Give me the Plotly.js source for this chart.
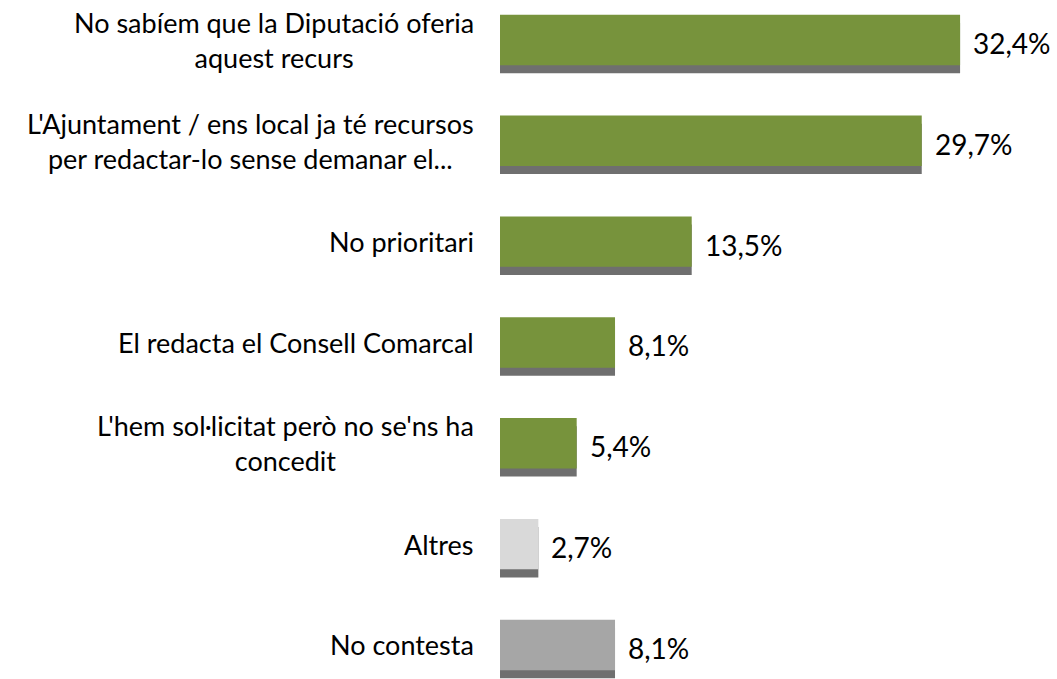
<!DOCTYPE html>
<html><head><meta charset="utf-8">
<script src="https://cdn.plot.ly/plotly-3.0.1.min.js"></script>
<style>html,body{margin:0;padding:0;background:#fff;}#chart{width:1057px;height:679px;}</style>
</head><body><div id="chart"></div>
<script>
const categories = [
  "No sabíem que la Diputació oferia<br>aquest recurs",
  "L'Ajuntament / ens local ja té recursos<br>per redactar-lo sense demanar el...",
  "No prioritari",
  "El redacta el Consell Comarcal",
  "L'hem sol·licitat però no se'ns ha<br>concedit",
  "Altres",
  "No contesta"
];
const values = [32.4, 29.7, 13.5, 8.1, 5.4, 2.7, 8.1];
const barColors = ["#77933C","#77933C","#77933C","#77933C","#77933C","#D9D9D9","#A6A6A6"];

const idx = categories.map((_, i) => i);
const fontFam = "Lato, 'Open Sans', sans-serif";

const shadow = {
  type: 'bar', orientation: 'h', x: values, y: idx,
  width: 0.5, offset: -0.17,
  marker: {color: 'rgba(75,75,75,0.8)', line: {width: 0}},
  hoverinfo: 'skip', showlegend: false
};
const bars = {
  type: 'bar', orientation: 'h', x: values, y: idx,
  width: 0.5, offset: -0.25,
  marker: {color: barColors, line: {width: 0}},
  hoverinfo: 'skip', showlegend: false
};

const annotations = [];
categories.forEach((c, i) => {
  annotations.push({
    xref: 'x', yref: 'y', x: 0, y: i, text: c, showarrow: false,
    xanchor: 'right', yanchor: 'middle', align: 'center', xshift: -24,
    font: {family: fontFam, size: 27, color: '#000'}
  });
  annotations.push({
    xref: 'x', yref: 'y', x: values[i], y: i,
    text: values[i].toFixed(1).replace('.', ',') + '%', showarrow: false,
    xanchor: 'left', yanchor: 'middle', xshift: 11, yshift: -3,
    font: {family: fontFam, size: 28, color: '#000'}
  });
});

const layout = {
  width: 1057, height: 679,
  margin: {l: 500, r: 0, t: 0, b: 0, pad: 0},
  paper_bgcolor: '#fff', plot_bgcolor: '#fff',
  barmode: 'overlay',
  xaxis: {range: [0, 557/14.2], showgrid: false, zeroline: false, showticklabels: false, showline: false, fixedrange: true},
  yaxis: {range: [679/100.83 - 40/100.83, -40/100.83], showgrid: false, zeroline: false, showticklabels: false, showline: false, fixedrange: true},
  annotations: annotations,
  showlegend: false
};
Plotly.newPlot('chart', [shadow, bars], layout, {displayModeBar: false, staticPlot: true});
</script></body></html>
